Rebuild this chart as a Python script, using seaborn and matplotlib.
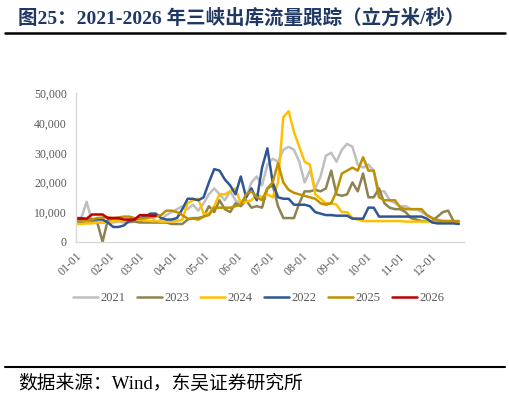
import numpy as np
import pandas as pd
import matplotlib
matplotlib.use('Agg')
import matplotlib.pyplot as plt
import seaborn as sns

# 每5天取一个点 (日序号, 从1月1日起)
days = list(range(0, 365, 5))

flow_2021 = [7500, 8000, 13500, 7000, 6500, 6500, 6500, 6500, 6800, 6500,
             6500, 6800, 7000, 7500, 9500, 6500, 7500, 9000, 10000, 11000,
             12000, 11000, 12500, 10500, 13000, 16000, 18000, 16000, 14000, 17000,
             14000, 12500, 15000, 20000, 22000, 19000, 26000, 28000, 27000, 31000,
             32000, 31000, 27000, 20000, 24000, 18000, 22000, 29000, 30000, 27000,
             31000, 33000, 32000, 26000, 25000, 26000, 24000, 17000, 17000, 14000,
             13000, 12000, 12000, 11000, 11000, 10000, 9000, 8000, 7500, 7000,
             7000, 6800, 6800]
flow_2022 = [8000, 8000, 7500, 7500, 7500, 7500, 6500, 5000, 5000, 5500,
             7000, 7500, 8000, 8500, 9500, 9500, 8000, 7500, 7500, 8000,
             11000, 14500, 14500, 14000, 15000, 20000, 24500, 24000, 21000, 19000,
             16000, 22000, 15000, 18000, 14000, 25000, 31500, 20000, 15000, 14500,
             14500, 12500, 12500, 12500, 12000, 10000, 9500, 9000, 9000, 8800,
             8800, 8800, 7800, 7800, 7800, 11500, 11500, 8500, 8500, 8500,
             8500, 8500, 8500, 8500, 8500, 8500, 7800, 6500, 6200, 6200,
             6200, 6200, 6000]
flow_2023 = [6500, 6500, 6500, 6500, 6500, 0, 7500, 7500, 7500, 7000,
             6800, 6800, 6500, 6500, 6500, 6500, 6500, 6500, 6000, 6000,
             6000, 7500, 8000, 8000, 8500, 12000, 10000, 14000, 11000, 10000,
             13000, 12000, 14000, 11500, 12000, 11500, 18000, 19000, 12000, 8000,
             8000, 8000, 13000, 17000, 17000, 17500, 17000, 18000, 24000, 16000,
             15500, 16000, 20000, 17000, 23000, 15000, 15000, 18000, 13000, 11500,
             11000, 11000, 10000, 8000, 7500, 7000, 7000, 7000, 8500, 10000,
             10500, 7000, 6500]
flow_2024 = [6000, 6000, 6200, 6200, 6500, 6500, 6500, 7000, 7000, 7000,
             7500, 7500, 7500, 7200, 7000, 7000, 6800, 6800, 6800, 7000,
             7500, 13000, 14000, 14500, 9500, 9500, 12000, 16000, 16000, 17000,
             18000, 13000, 13500, 14000, 16000, 15000, 16000, 15000, 20000, 42000,
             44000, 37000, 32000, 27000, 26000, 16000, 14500, 13000, 13000, 12500,
             10000, 10000, 8000, 7500, 7000, 7000, 7000, 7000, 7000, 7000,
             7000, 7000, 6800, 6800, 6800, 6800, 6800, 6700, 6700, 6600,
             6600, 6500, 6500]
flow_2025 = [7200, 7200, 7500, 7500, 8000, 8200, 8200, 8000, 8200, 8500,
             8500, 8000, 7800, 8000, 8200, 8500, 9000, 10500, 10500, 10000,
             9000, 7800, 7800, 7500, 8500, 9000, 11500, 11500, 11500, 11500,
             12000, 12500, 16000, 17000, 15000, 14000, 18000, 20000, 26500, 20000,
             17500, 16500, 16000, 15500, 15000, 14500, 13000, 12500, 13000, 17000,
             23000, 24000, 25000, 24000, 28500, 24000, 24000, 15000, 14000, 14000,
             14000, 11500, 11000, 11000, 11000, 11000, 9000, 8000, 7200, 7000,
             7000, 7000, 7000]
flow_2026 = [7800, 7800, 7800, 9200, 9200, 9200, 8000, 8000, 8000, 7500,
             7500, 7500, 9000, 9000, 8800, 8800]

years = ['2021', '2023', '2024', '2022', '2025', '2026']
colors = ['#BFBFBF', '#8C8350', '#FFC000', '#2F5597', '#BF9000', '#C00000']
series = {'2021': flow_2021, '2022': flow_2022, '2023': flow_2023,
          '2024': flow_2024, '2025': flow_2025, '2026': flow_2026}

month_days = [0, 31, 59, 90, 120, 151, 181, 212, 243, 273, 304, 334]
month_labels = ['01-01', '02-01', '03-01', '04-01', '05-01', '06-01',
                '07-01', '08-01', '09-01', '10-01', '11-01', '12-01']

sns.set_style('white')
plt.rcParams['font.family'] = ['Liberation Serif', 'Noto Sans CJK SC']

fig = plt.figure(figsize=(5.1, 4.01), dpi=100)
ax = fig.add_axes([0.149, 0.397, 0.761, 0.370])

for year, color in zip(years, colors):
    vals = series[year]
    df = pd.DataFrame({'day': days[:len(vals)], 'flow': vals})
    sns.lineplot(data=df, x='day', y='flow', color=color, linewidth=1.8,
                 label=year, ax=ax)

ax.set_xlim(0, 365)
ax.set_ylim(0, 50000)
ax.set_yticks(np.arange(0, 50001, 10000))
ax.set_yticklabels(['0'] + ['{:,}'.format(v) for v in range(10000, 50001, 10000)])
ax.set_xticks(month_days)
ax.set_xticklabels(month_labels, rotation=45, ha='right', rotation_mode='anchor')
ax.set_xlabel('')
ax.set_ylabel('')

for s in ['top', 'right']:
    ax.spines[s].set_visible(False)
for s in ['left', 'bottom']:
    ax.spines[s].set_color('#D9D9D9')
    ax.spines[s].set_linewidth(1.0)
ax.tick_params(axis='both', colors='#D9D9D9', labelcolor='#595959',
               labelsize=8.5, length=3, width=0.8)
ax.tick_params(axis='x', pad=3)

ax.legend(loc='center', bbox_to_anchor=(0.47, -0.38), ncol=6, frameon=False,
          fontsize=9, handlelength=2.0, handletextpad=0.2, columnspacing=0.9,
          labelcolor='#595959')

fig.text(0.035, 0.955, '图25：2021-2026 年三峡出库流量跟踪（立方米/秒）',
         fontsize=14, fontweight='bold', color='#1F3864', va='center', ha='left')
fig.add_artist(plt.Line2D([0.01, 0.99], [0.918, 0.918], color='black', linewidth=1.8))
fig.add_artist(plt.Line2D([0.01, 0.99], [0.085, 0.085], color='black', linewidth=1.5))
fig.text(0.035, 0.043, '数据来源：Wind，东吴证券研究所', fontsize=13.5,
         color='black', va='center', ha='left')

fig.savefig('out.png', dpi=100)
